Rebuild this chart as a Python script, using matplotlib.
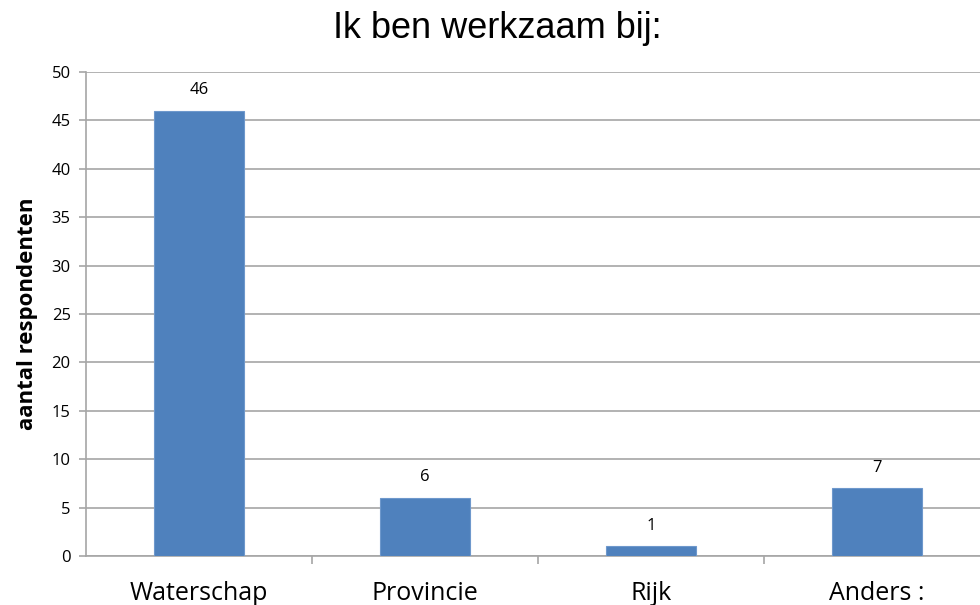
import matplotlib
matplotlib.use("Agg")
import matplotlib.pyplot as plt

categories = ["Waterschap", "Provincie", "Rijk", "Anders :"]
counts = [46, 6, 1, 7]
yticks = list(range(0, 51, 5))

W, H = 980, 605
fig = plt.figure(figsize=(W / 100, H / 100), dpi=100)
# axes run past the right edge, as in the reference crop
ax = fig.add_axes([86 / W, (H - 556) / H, (990 - 86) / W, (556 - 72) / H])

blue = "#4F81BD"
x = list(range(len(categories)))
ax.bar(x, counts, width=0.4, color=blue, edgecolor="#6E98CC", linewidth=0.8, zorder=3)
for xi, v in zip(x, counts):
    ax.text(xi, v + 1.3, str(v), ha="center", va="bottom", fontsize=12, family="Open Sans")

ax.set_xlim(-0.5, len(categories) - 0.5)
ax.set_ylim(0, 50)
ax.set_yticks(yticks)
ax.yaxis.grid(True, color="#A6A6A6", linewidth=1.2, zorder=0)
ax.tick_params(axis="y", length=5, color="#A6A6A6", width=1.2, labelsize=12, pad=6)
for lab in ax.get_yticklabels():
    lab.set_family("Open Sans")

ax.set_xticks(x)
ax.set_xticklabels(categories, fontsize=18, family="Open Sans")
ax.tick_params(axis="x", length=0, pad=18)
ax.set_xticks([i + 0.5 for i in x[:-1]], minor=True)
ax.tick_params(axis="x", which="minor", length=6, color="#A6A6A6", width=1.2)

for s in ["top", "right"]:
    ax.spines[s].set_visible(False)
for s in ["left", "bottom"]:
    ax.spines[s].set_color("#A6A6A6")
    ax.spines[s].set_linewidth(1.2)

ax.set_ylabel("aantal respondenten", fontsize=16, fontweight="bold", family="Open Sans")
ax.yaxis.set_label_coords(-48 / (990 - 86), 0.5)
fig.text(497 / W, 1 - 28 / H, "Ik ben werkzaam bij:", ha="center", va="center",
         fontsize=26, family="Liberation Sans")

fig.savefig("out.png", dpi=100)
